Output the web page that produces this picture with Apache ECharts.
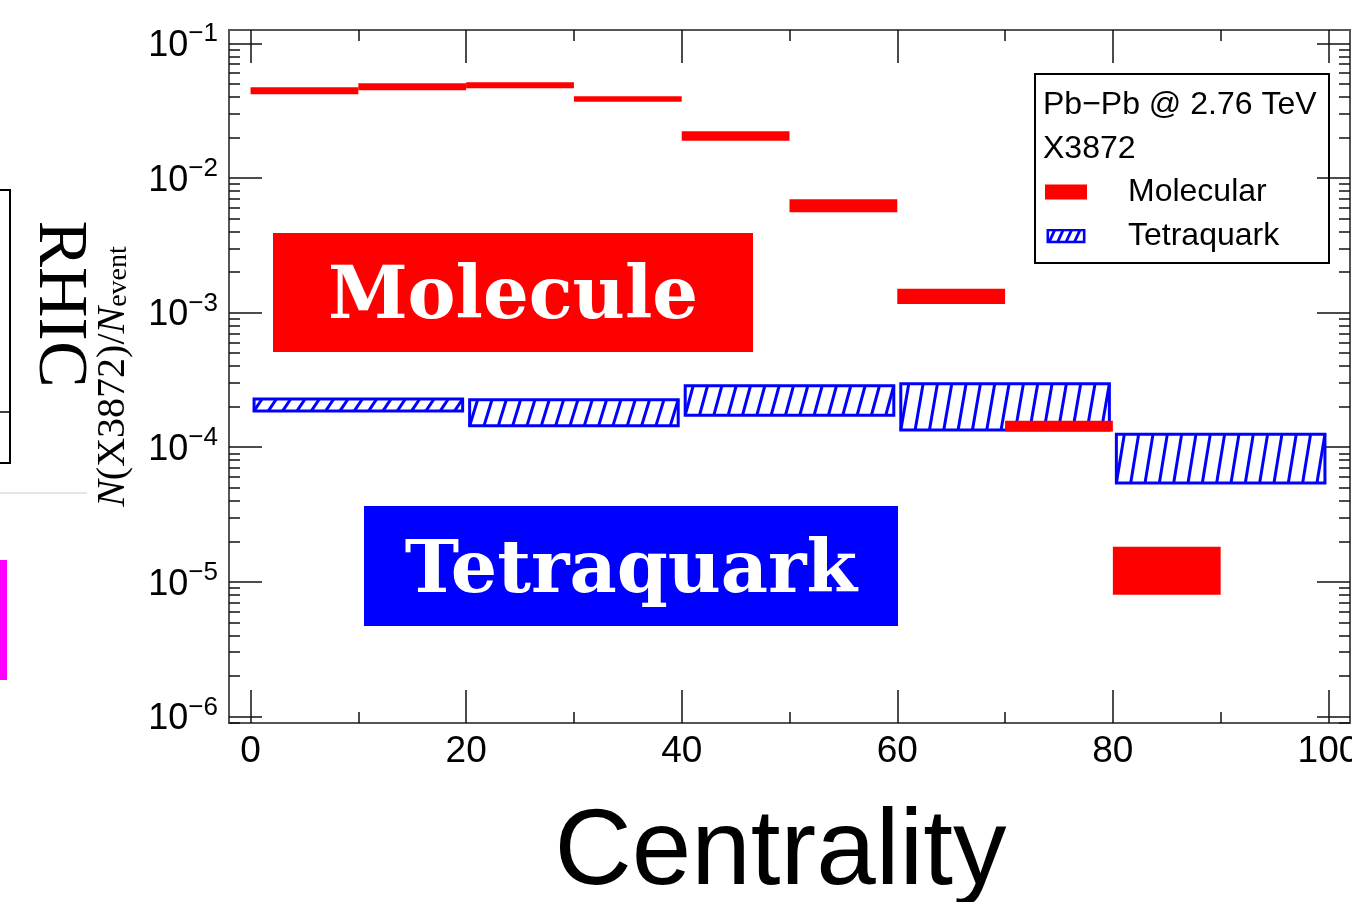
<!DOCTYPE html>
<html><head><meta charset="utf-8">
<script src="https://cdn.jsdelivr.net/npm/echarts@6/dist/echarts.min.js"></script>
<style>html,body{margin:0;padding:0;background:#fff}#c{width:1352px;height:902px}</style>
</head><body><div id="c"></div>
<script>
// ---- data ----
const molBinLo = [0, 10, 20, 30, 40, 50, 60, 70, 80];
const molBinHi = [10, 20, 30, 40, 50, 60, 70, 80, 90];
const molLow  = [0.0418, 0.0448, 0.0463, 0.0368, 0.0189, 0.00556, 0.00116, 1.31e-4, 8.02e-6];
const molHigh = [0.0471, 0.0505, 0.0514, 0.0405, 0.0222, 0.00695, 0.00150, 1.57e-4, 1.82e-5];
const tetBinLo = [0, 20, 40, 60, 80];
const tetBinHi = [20, 40, 60, 80, 100];
const tetLow  = [1.86e-4, 1.44e-4, 1.73e-4, 1.34e-4, 5.42e-5];
const tetHigh = [2.28e-4, 2.25e-4, 2.86e-4, 2.96e-4, 1.25e-4];
const seriesNames = ['Molecular', 'Tetraquark'];
const legendHeader = ['Pb\u2212Pb @ 2.76 TeV', 'X3872'];
const xTickValues = [0, 20, 40, 60, 80, 100];
const xMinorTickValues = [10, 30, 50, 70, 90];
const yTickValues = [1e-6, 1e-5, 1e-4, 1e-3, 1e-2, 1e-1];
const yMinorTickValues = [];
for (let e = -7; e <= -1; e++) for (let m = 2; m <= 9; m++) yMinorTickValues.push(m * Math.pow(10, e));
const xTitle = 'Centrality';
const yTitle = '{i|N}(X3872)/{i|N}{s|event}';

const X_MIN = -2, X_MAX = 102;
const Y_MIN = Math.pow(10, -6.049), Y_MAX = Math.pow(10, -0.901);

const molData = molBinLo.map((lo, i) => [lo, molBinHi[i], molLow[i], molHigh[i]]);
const tetData = tetBinLo.map((lo, i) => [lo, tetBinHi[i], tetLow[i], tetHigh[i]]);

const RED = '#ff0000', BLUE = '#0000ff';
const SANS = '"Liberation Sans", Arial, sans-serif';
const SERIF = '"Liberation Serif", "Times New Roman", serif';

function renderMol(params, api) {
  const a = api.coord([api.value(0), api.value(3)]);
  const b = api.coord([api.value(1), api.value(2)]);
  return { type: 'rect', shape: { x: a[0], y: a[1], width: b[0] - a[0], height: b[1] - a[1] }, style: { fill: RED } };
}
function renderTet(params, api) {
  const a = api.coord([api.value(0), api.value(3)]);
  const b = api.coord([api.value(1), api.value(2)]);
  const x0 = a[0] + 3.5, x1 = b[0] - 3.5, y0 = a[1], y1 = b[1];
  const children = [{ type: 'rect', shape: { x: x0, y: y0, width: x1 - x0, height: y1 - y0 }, style: { fill: '#fff', stroke: BLUE, lineWidth: 3 } }];
  const slant = 8;
  const n = Math.max(1, Math.round((x1 - x0 - slant) / 14.2));
  const step = (x1 - x0 - slant) / n;
  for (let k = 0; k <= n; k++) {
    const xb = x0 + k * step;
    children.push({ type: 'line', shape: { x1: xb, y1: y1, x2: xb + slant, y2: y0 }, style: { stroke: BLUE, lineWidth: 3, lineCap: 'butt' } });
  }
  return { type: 'group', children };
}

const hatchSvg = '<svg xmlns="http://www.w3.org/2000/svg" width="42" height="16">' +
  '<rect x="1.5" y="1.5" width="39" height="13" fill="white" stroke="blue" stroke-width="3"/>' +
  '<path d="M3 14.5L9 1.5M12 14.5L18 1.5M21 14.5L27 1.5M30 14.5L36 1.5" stroke="blue" stroke-width="3"/></svg>';
const hatchIcon = 'image://data:image/svg+xml;charset=utf-8,' + encodeURIComponent(hatchSvg);

const axisLineStyle = { show: true, onZero: false, lineStyle: { color: '#555', width: 2 } };
const tickMajor = (vals) => ({ show: true, inside: true, length: 33, customValues: vals, lineStyle: { color: '#111', width: 1.5 } });
const tickMinor = (vals) => ({ show: true, inside: true, length: 11, customValues: vals, lineStyle: { color: '#111', width: 1.5 } });

function xAx(pos, tick, extra) {
  return Object.assign({ type: 'value', min: X_MIN, max: X_MAX, position: pos, axisLine: axisLineStyle,
    axisTick: tick, axisLabel: { show: false }, splitLine: { show: false }, minorTick: { show: false } }, extra || {});
}
function yAx(pos, tick, extra) {
  return Object.assign({ type: 'log', logBase: 10, min: Y_MIN, max: Y_MAX, position: pos, axisLine: axisLineStyle,
    axisTick: tick, axisLabel: { show: false }, splitLine: { show: false }, minorTick: { show: false } }, extra || {});
}

const chart = echarts.init(document.getElementById('c'), null, { renderer: 'canvas' });
chart.setOption({
  backgroundColor: '#fff',
  animation: false,
  grid: { left: 229, top: 30, right: 2, bottom: 179, containLabel: false, outerBoundsMode: 'none' },
  title: { text: legendHeader.join('\n'), left: 1043, top: 83, padding: 0,
    textStyle: { fontSize: 32, fontWeight: 'normal', fontFamily: SANS, color: '#000', lineHeight: 44 } },
  legend: {
    orient: 'vertical', left: 1045, top: 176, padding: 0, itemWidth: 42, itemHeight: 15, itemGap: 12,
    selectedMode: false,
    textStyle: { fontSize: 32, fontFamily: SANS, color: '#000', padding: [0, 0, 0, 36] },
    data: [
      { name: seriesNames[0], icon: 'rect', itemStyle: { color: RED } },
      { name: seriesNames[1], icon: hatchIcon }
    ]
  },
  xAxis: [
    xAx('bottom', tickMajor(xTickValues), {
      axisLabel: { show: true, customValues: xTickValues, margin: 10, fontSize: 37, fontFamily: SANS, color: '#000' },
      name: xTitle, nameLocation: 'middle', nameGap: 78,
      nameTextStyle: { fontSize: 107, fontFamily: SANS, color: '#000', padding: [0, 18, 0, 0] }
    }),
    xAx('bottom', tickMinor(xMinorTickValues)),
    xAx('top', tickMajor(xTickValues)),
    xAx('top', tickMinor(xMinorTickValues))
  ],
  yAxis: [
    yAx('left', tickMajor(yTickValues), {
      axisLabel: { show: true, customValues: yTickValues, margin: 11, color: '#000', padding: [6, 0, 0, 0],
        formatter: v => '{b|10}{s|\u2212' + Math.round(-Math.log10(v)) + '}',
        rich: { b: { fontSize: 36, fontFamily: SANS, color: '#000', lineHeight: 50 },
                s: { fontSize: 26, fontFamily: SANS, color: '#000', lineHeight: 12, verticalAlign: 'top' } } },
      name: yTitle, nameLocation: 'middle', nameRotate: 90, nameGap: 96,
      nameTextStyle: { fontSize: 40, fontFamily: SERIF, color: '#000',
        rich: { i: { fontSize: 40, fontFamily: SERIF, fontStyle: 'italic', color: '#000' },
                s: { fontSize: 28, fontFamily: SERIF, color: '#000', verticalAlign: 'bottom' } } }
    }),
    yAx('left', tickMinor(yMinorTickValues)),
    yAx('right', tickMajor(yTickValues)),
    yAx('right', tickMinor(yMinorTickValues))
  ],
  series: [
    { name: seriesNames[1], type: 'custom', xAxisIndex: 0, yAxisIndex: 0, renderItem: renderTet,
      encode: { x: [0, 1], y: [2, 3] }, data: tetData, itemStyle: { color: BLUE }, z: 2, clip: true },
    { name: seriesNames[0], type: 'custom', xAxisIndex: 0, yAxisIndex: 0, renderItem: renderMol,
      encode: { x: [0, 1], y: [2, 3] }, data: molData, itemStyle: { color: RED }, z: 3, clip: true }
  ],
  graphic: [
    { type: 'rect', shape: { x: 1035, y: 74, width: 294, height: 189 }, style: { fill: 'none', stroke: '#000', lineWidth: 2 }, z: 50 },
    // slide decorations on the left
    { type: 'rect', shape: { x: -20, y: 190, width: 30, height: 273 }, style: { fill: 'none', stroke: '#000', lineWidth: 2 }, z: 50 },
    { type: 'line', shape: { x1: 0, y1: 412, x2: 9, y2: 412 }, style: { stroke: '#000', lineWidth: 1.5 }, z: 50 },
    { type: 'text', x: 58, y: 304, rotation: -Math.PI / 2,
      style: { text: 'RHIC', font: '70px ' + SERIF, fill: '#000', align: 'center', verticalAlign: 'middle' }, z: 50 },
    { type: 'line', shape: { x1: 0, y1: 493, x2: 87, y2: 493 }, style: { stroke: '#dddddd', lineWidth: 1.5 }, z: 50 },
    { type: 'rect', shape: { x: 0, y: 560, width: 7, height: 120 }, style: { fill: '#ff00ff' }, z: 50 },
    // overlay labels
    { type: 'rect', shape: { x: 273, y: 233, width: 480, height: 119 }, style: { fill: RED }, z: 100 },
    { type: 'text', x: 513, y: 299, style: { text: 'Molecule', font: 'bold 72px "DejaVu Serif"', fill: '#fff', align: 'center', verticalAlign: 'middle' }, z: 101 },
    { type: 'rect', shape: { x: 364, y: 506, width: 534, height: 120 }, style: { fill: BLUE }, z: 100 },
    { type: 'text', x: 631, y: 573, style: { text: 'Tetraquark', font: 'bold 73px "DejaVu Serif"', fill: '#fff', align: 'center', verticalAlign: 'middle' }, z: 101 }
  ]
});
</script>
</body></html>
